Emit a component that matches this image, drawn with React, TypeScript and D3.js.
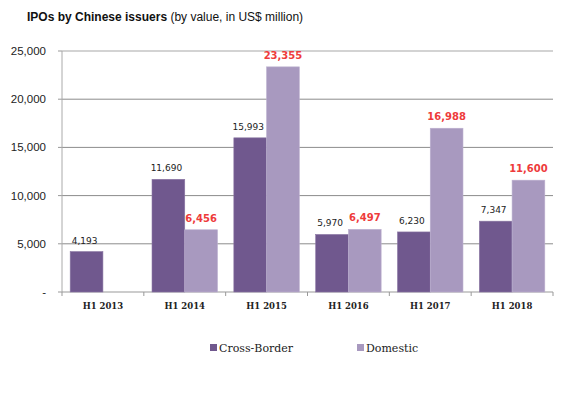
import React from "react";
import * as d3 from "d3";

const periods = ["H1 2013", "H1 2014", "H1 2015", "H1 2016", "H1 2017", "H1 2018"];
const crossBorder = [4193, 11690, 15993, 5970, 6230, 7347];
const domestic: (number | null)[] = [null, 6456, 23355, 6497, 16988, 11600];
const yTicks = [0, 5000, 10000, 15000, 20000, 25000];

const seriesNames = ["Cross-Border", "Domestic"];
const colors = ["#70588e", "#a899bf"];

export default function App() {
  const width = 580;
  const height = 395;
  const left = 62;
  const right = 553;
  const top = 51;
  const bottom = 292;

  const band = (right - left) / periods.length;
  const barW = band * 0.4;
  const y = d3.scaleLinear().domain([0, 25000]).range([bottom, top]);
  const fmt = d3.format(",");

  const catStart = (i: number) => left + i * band;

  return (
    <svg width={width} height={height} style={{ position: "absolute", left: 0, top: 0 }}>
      <rect width={width} height={height} fill="#fff" />
      <text x={27} y={21} fontFamily="Liberation Sans, Arial, sans-serif" fontSize={12} fill="#111">
        <tspan fontWeight="bold">IPOs by Chinese issuers</tspan>
        <tspan> (by value, in US$ million)</tspan>
      </text>

      {yTicks.map((t) => (
        <g key={t}>
          {t > 0 && (
            <line
              x1={left}
              x2={right}
              y1={y(t)}
              y2={y(t)}
              stroke={t === 25000 ? "#c4c4c4" : "#8c8c8c"}
              strokeWidth={t === 25000 ? 1.5 : 1}
            />
          )}
          <line x1={left - 4} x2={left} y1={y(t)} y2={y(t)} stroke="#999" />
          <text
            x={46}
            y={y(t) + 4}
            textAnchor="end"
            fontFamily="Liberation Sans, Arial, sans-serif"
            fontSize={11.5}
            fill="#222"
          >
            {t === 0 ? "-" : fmt(t)}
          </text>
        </g>
      ))}

      <line x1={left} x2={left} y1={top} y2={bottom} stroke="#aaa" />
      <line x1={left} x2={right} y1={bottom} y2={bottom} stroke="#999" />
      {d3.range(periods.length + 1).map((i) => (
        <line key={i} x1={catStart(i)} x2={catStart(i)} y1={bottom} y2={bottom + 4} stroke="#999" />
      ))}

      {periods.map((p, i) => {
        const x0 = catStart(i) + band * 0.1;
        const c = crossBorder[i];
        const d = domestic[i];
        return (
          <g key={p}>
            <rect x={x0} y={y(c)} width={barW} height={bottom - y(c)} fill={colors[0]} stroke="#8a76a3" strokeWidth={0.6} />
            <text
              x={x0 + barW / 2 - 2}
              y={y(c) - 8}
              textAnchor="middle"
              fontFamily="DejaVu Sans, sans-serif"
              fontSize={9}
              fill="#222"
            >
              {fmt(c)}
            </text>
            {d !== null && (
              <>
                <rect x={x0 + barW} y={y(d)} width={barW} height={bottom - y(d)} fill={colors[1]} stroke="#bcb0cf" strokeWidth={0.6} />
                <text
                  x={x0 + barW * 1.5}
                  y={y(d) - 8}
                  textAnchor="middle"
                  fontFamily="DejaVu Sans, sans-serif"
                  fontWeight="bold"
                  fontSize={10}
                  fill="#ee3b3b"
                >
                  {fmt(d)}
                </text>
              </>
            )}
            <text
              x={catStart(i) + band / 2}
              y={309}
              textAnchor="middle"
              fontFamily="DejaVu Serif, serif"
              fontWeight="bold"
              fontSize={8.5}
              fill="#222"
            >
              {p}
            </text>
          </g>
        );
      })}

      {seriesNames.map((s, i) => {
        const lx = i === 0 ? 210 : 357;
        return (
          <g key={s}>
            <rect x={lx} y={344} width={7} height={7} fill={colors[i]} />
            <text x={lx + 9} y={352} fontFamily="DejaVu Serif, serif" fontSize={11} fill="#222">
              {s}
            </text>
          </g>
        );
      })}
    </svg>
  );
}
